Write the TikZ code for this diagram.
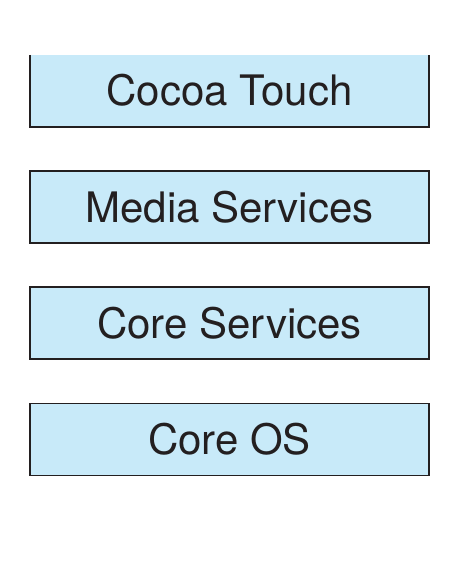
\documentclass[tikz,border=0pt]{standalone}
\usepackage{fontspec}
\setmainfont{TeX Gyre Heros}
\usetikzlibrary{positioning}
\definecolor{layerfill}{RGB}{200,234,249}
\definecolor{layerink}{RGB}{35,31,32}

\begin{document}
\begin{tikzpicture}
        \tikzset{layer/.style = {shape=rectangle,draw=layerink,line width=1.6pt,fill=layerfill,minimum width=399pt,minimum height=72pt,text=layerink,font=\fontsize{42}{50}\selectfont,text height=30pt,text depth=0pt}}
        \useasboundingbox (0,0) rectangle (468pt,-572pt);
        \node[layer,draw=none,outer sep=0pt] (cocoa) at (229.5pt,-91pt) {Cocoa Touch};
        \draw[layerink,line width=1.6pt] (cocoa.north west) -- (cocoa.south west) -- (cocoa.south east) -- (cocoa.north east);
        \node[layer,below=43.3pt of cocoa] (media) {Media Services};
        \node[layer,below=42.5pt of media] (core) {Core Services};
        \node[layer,below=42.5pt of core] (os) {Core OS};
    \end{tikzpicture}
\end{document}
